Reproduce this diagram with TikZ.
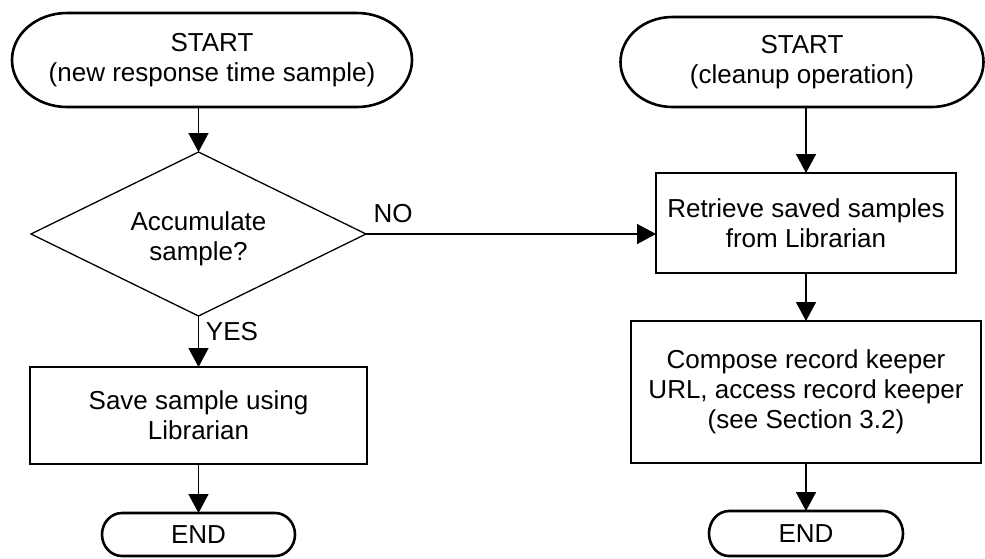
\documentclass[tikz,border=0pt]{standalone}
\usepackage{fontspec}
\setmainfont{Liberation Sans}
\usetikzlibrary{shapes.geometric,arrows.meta}
\newcommand\termoutline[3]{\draw[termline] ([xshift=#2]#1.north west) -- ([xshift=-#2]#1.north east) arc[start angle=90,end angle=-90,x radius=#2,y radius=#3] -- ([xshift=#2]#1.south west) arc[start angle=270,end angle=90,x radius=#2,y radius=#3] -- cycle;}
\begin{document}
\begin{tikzpicture}[x=1pt,y=-1pt,
  txt/.style={font=\fontsize{26}{30}\selectfont, align=center, inner sep=0pt, outer sep=0pt},
  termline/.style={draw=black, line width=2.6pt},
  rect/.style={txt, draw=black, line width=2pt, rectangle},
  decision/.style={draw=black, line width=1.3pt, diamond, aspect=2.04, inner sep=0pt, outer sep=0pt},
  arr/.style={draw=black, line width=1.4pt, -{Triangle[length=19pt,width=20pt]}},
  lbl/.style={font=\fontsize{26}{30}\selectfont, inner sep=0pt}
]
\fill[white] (0,0) rectangle (985,558);
\useasboundingbox (0,0) rectangle (985,558);

\node[txt, minimum width=400pt, minimum height=94pt] (s1) at (212,60) {START\\(new response time sample)};
\termoutline{s1}{55pt}{47pt}
\node[txt, minimum width=363pt, minimum height=90pt] (s2) at (802,62) {START\\(cleanup operation)};
\termoutline{s2}{52pt}{45pt}

\node[decision, minimum width=335pt, minimum height=164pt] (d) at (198.5,234) {};
\node[txt] (dtext) at (198.5,239) {Accumulate\\sample?};
\node[rect, minimum width=337pt, minimum height=97pt] (r0) at (198.5,415.5) {Save sample using\\Librarian};
\node[rect, minimum width=300pt, minimum height=100pt] (r1) at (806,223) {Retrieve saved samples\\from Librarian};
\node[rect, minimum width=350pt, minimum height=142pt] (r2) at (806,392) {Compose record keeper\\URL, access record keeper\\(see Section 3.2)};

\node[txt, minimum width=193pt, minimum height=43pt] (e1) at (198.5,534.5) {END};
\termoutline{e1}{20pt}{21.5pt}
\node[txt, minimum width=194pt, minimum height=45pt] (e2) at (806,533.5) {END};
\termoutline{e2}{20pt}{22.5pt}

\draw[arr] (d.north |- s1.south) -- (d.north);
\draw[arr] (d.south) -- (r0.north);
\draw[arr] (r0.south) -- (e1.north);
\draw[arr] (d.east) -- (d.east -| r1.west);
\draw[arr] (r1.north |- s2.south) -- (r1.north);
\draw[arr] (r1.south) -- (r2.north);
\draw[arr] (r2.south) -- (e2.north);

\node[lbl] (yes) at (232,332) {YES};
\node[lbl] (no) at (393,213.5) {NO};
\end{tikzpicture}
\end{document}
